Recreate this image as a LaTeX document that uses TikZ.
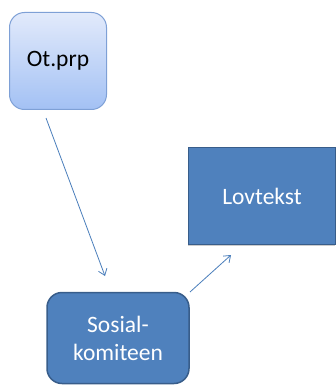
\documentclass[tikz,border=0pt]{standalone}
\usepackage{fontspec}
\setmainfont{Carlito}
\usepackage{xcolor}
\definecolor{boxblue}{RGB}{79,129,189}
\definecolor{boxedge}{RGB}{56,93,138}
\definecolor{lighttop}{RGB}{226,234,251}
\definecolor{lightbot}{RGB}{163,193,244}
\definecolor{lightedge}{RGB}{126,160,214}
\definecolor{arrowblue}{RGB}{74,126,187}
\usetikzlibrary{arrows.meta,shadows}

\begin{document}
\begin{tikzpicture}
		[x=1pt,y=-1pt,
		every node/.style={font=\fontsize{23.5}{28}\selectfont,align=center,inner sep=0pt},
		darkbox/.style={fill=boxblue,draw=boxedge,line width=1.5pt,text=white},
		lightbox/.style={top color=lighttop,bottom color=lightbot,draw=lightedge,line width=1pt,rounded corners=15pt},
		link/.style={draw=arrowblue,line width=0.8pt,-{Straight Barb[length=6pt,width=9pt]}}]
		\useasboundingbox (0,0) rectangle (336,385);
		\node[lightbox,minimum width=97pt,minimum height=97pt] (otprp) at (58,61) {Ot.prp};
		\node[darkbox,minimum width=147pt,minimum height=97pt,
			drop shadow={shadow xshift=-1pt,shadow yshift=-1pt,opacity=0.4}] (lovtekst) at (262,196) {Lovtekst};
		\node[darkbox,rounded corners=15pt,minimum width=142pt,minimum height=91pt] (sosial) at (118,338) {Sosial-\\komiteen};
		% free ends of the two arrows
		\coordinate (a1) at (46,118);
		\coordinate (b1) at (105,276);
		\coordinate (a2) at (190,292);
		\coordinate (b2) at (231,255);
		\draw[link] (a1) -- (b1);
		\draw[link] (a2) -- (b2);
	\end{tikzpicture}
\end{document}
